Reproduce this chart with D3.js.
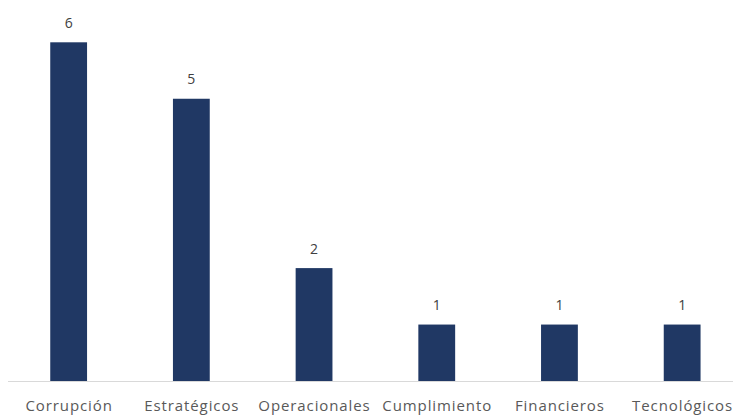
<!DOCTYPE html>
<html>
<head>
<meta charset="utf-8">
<script src="https://cdn.jsdelivr.net/npm/d3@7"></script>
<style>
  html, body { margin: 0; padding: 0; background: #fff; }
  svg { display: block; }
</style>
</head>
<body>
<svg id="chart" width="733" height="416"></svg>
<script>
// Risk categories and how many risks fall in each
const categories = ["Corrupción", "Estratégicos", "Operacionales", "Cumplimiento", "Financieros", "Tecnológicos"];
const counts = [6, 5, 2, 1, 1, 1];

const svg = d3.select("#chart");
const baselineY = 381;
const plotTopY = 42.3;

const x = d3.scaleBand()
  .domain(categories)
  .range([7.3, 743.5])
  .paddingInner(0.7)
  .paddingOuter(0.35);

const y = d3.scaleLinear()
  .domain([0, 6])
  .range([baselineY, plotTopY]);

const data = categories.map((c, i) => ({ cat: c, val: counts[i] }));

// Bars
svg.append("g")
  .selectAll("rect")
  .data(data)
  .join("rect")
  .attr("x", d => x(d.cat))
  .attr("y", d => y(d.val))
  .attr("width", x.bandwidth())
  .attr("height", d => y(0) - y(d.val))
  .attr("fill", "#203864");

// Value labels above the bars
svg.append("g")
  .selectAll("text")
  .data(data)
  .join("text")
  .attr("x", d => x(d.cat) + x.bandwidth() / 2)
  .attr("y", d => y(d.val) - 14.5)
  .attr("text-anchor", "middle")
  .attr("font-family", "'Open Sans', 'Noto Sans', sans-serif")
  .attr("font-size", 14)
  .attr("fill", "#404040")
  .text(d => d.val);

// Category axis
const axis = svg.append("g")
  .attr("transform", `translate(0,${baselineY + 0.5})`)
  .call(d3.axisBottom(x).tickSize(0).tickPadding(0));
axis.select(".domain")
  .attr("d", "M8,0H733")
  .attr("stroke", "#d9d9d9")
  .attr("stroke-width", 1);
axis.selectAll(".tick text")
  .attr("dy", null)
  .attr("y", 29.5)
  .attr("dx", "0.45px")
  .attr("font-family", "'Open Sans', 'Noto Sans', sans-serif")
  .attr("font-size", 15)
  .attr("fill", "#595959")
  .attr("letter-spacing", "0.9px");
</script>
</body>
</html>
